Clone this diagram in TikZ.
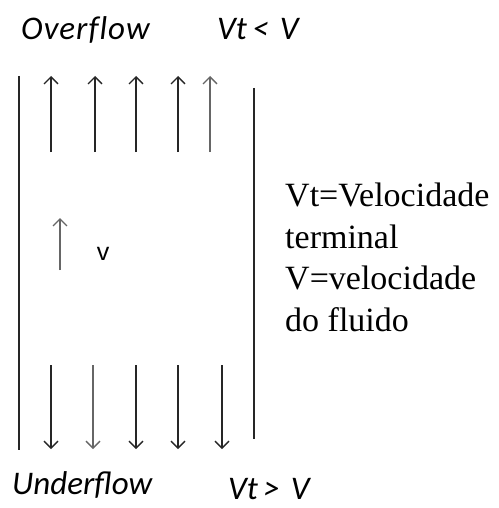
\documentclass[tikz,border=0pt]{standalone}
\usepackage{fontspec}
\setmainfont{Liberation Serif}
\newfontfamily\calib{Carlito}
\newfontfamily\arialf{Liberation Sans}
\usetikzlibrary{arrows.meta}
\begin{document}
\begin{tikzpicture}[x=1pt,y=-1pt,
  wall/.style={line width=1.6pt,black!85},
  flow/.style={line width=1.4pt,black!85,-{Straight Barb[length=7pt,width=14pt,line width=1.4pt]}},
  lbl/.style={inner sep=0pt,anchor=base west,font=\calib\itshape\fontsize{33}{38}\selectfont},
  legend/.style={inner sep=0pt,anchor=base west,align=left,font=\fontsize{34}{41.5}\selectfont}]
\useasboundingbox (0,0) rectangle (498,508);
\fill[white] (0,0) rectangle (498,508);
% walls
\coordinate (lwt) at (19,76); \coordinate (lwb) at (19,450);
\coordinate (rwt) at (254,88); \coordinate (rwb) at (254,439);
\draw[wall] (lwt) -- (lwb);
\draw[wall] (rwt) -- (rwb);
% up arrows
\foreach \x/\c [count=\i] in {51/black!85,95/black!85,136/black!85,178/black!85,210/black!60}{
  \coordinate (us\i) at (\x,152); \coordinate (ue\i) at (\x,76);
  \draw[flow,draw=\c] (us\i) -- (ue\i);
}
% down arrows
\foreach \x/\c [count=\i] in {51/black!85,93/black!60,136/black!85,178/black!85,222/black!85}{
  \coordinate (ds\i) at (\x,365); \coordinate (de\i) at (\x,449);
  \draw[flow,draw=\c] (ds\i) -- (de\i);
}
% middle arrow
\coordinate (ms) at (60,270); \coordinate (me) at (60,218);
\draw[flow,draw=black!60] (ms) -- (me);
\node[inner sep=0pt,font=\arialf\fontsize{25}{30}\selectfont] (v) at (103,254) {v};
% labels
\node[lbl] (over) at (21,40) {O\kern1pt v\kern1pt e\kern1pt r\kern1pt f\kern1pt l\kern1pt o\kern1pt w};
\node[lbl] (vtl) at (217,40) {Vt\,<\,\,V};
\node[lbl] (under) at (12,494) {Underflow};
\node[lbl] (vtg) at (228,499) {Vt\,>\,\,V};
\node[legend] (leg) at (285,331) {Vt=Velocidade\\terminal\\V=velocidade\\do fluido};
\end{tikzpicture}
\end{document}
